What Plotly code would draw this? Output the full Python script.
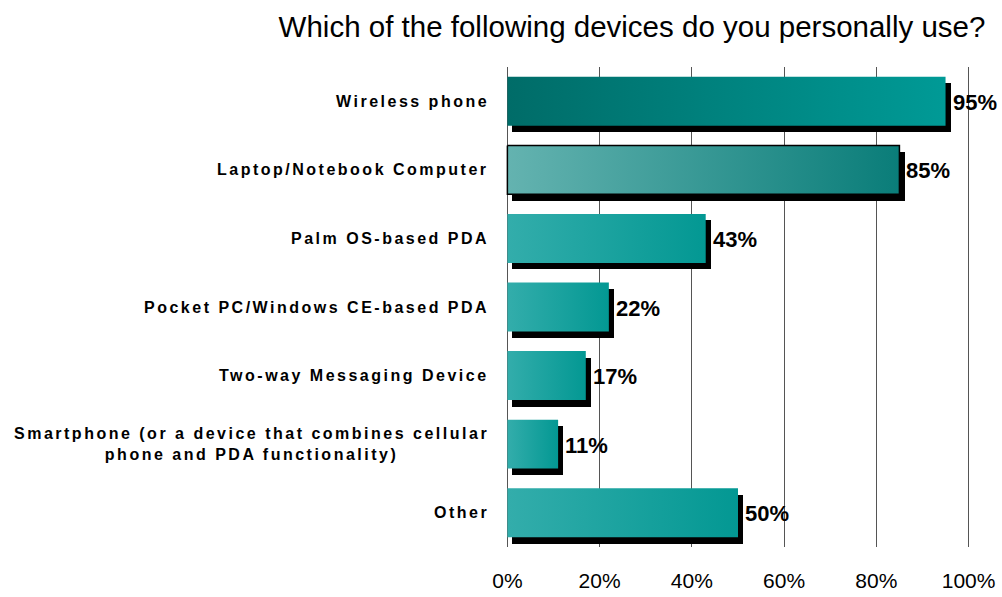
import plotly.graph_objects as go

# ---------------- data ----------------
categories = [
    "Wireless phone",
    "Laptop/Notebook Computer",
    "Palm OS-based PDA",
    "Pocket PC/Windows CE-based PDA",
    "Two-way Messaging Device",
    "Smartphone (or a device that combines cellular<br>phone and PDA functionality)",
    "Other",
]
values = [95, 85, 43, 22, 17, 11, 50]
x_tick_values = [0, 20, 40, 60, 80, 100]
x_tick_labels = ["0%", "20%", "40%", "60%", "80%", "100%"]
title_text = "Which of the following devices do you personally use?"

# ---------------- styles ----------------
grad_left = ["#006c68", "#64b3b0", "#33adab", "#33adab", "#33adab", "#33adab", "#33adab"]
grad_right = ["#009a96", "#0a7d79", "#039893", "#039893", "#039893", "#039893", "#039893"]
outlined = [False, True, False, False, False, False, False]

FONT = "Arial, Liberation Sans, sans-serif"
BAR_HALF = 0.357          # half bar thickness in category units
SHADOW_DX = 1.1           # shadow offset along x (percent units)
SHADOW_DY = 0.095         # shadow offset along y (category units)
X_PAD = 0.3               # small range padding so 0% / 100% gridlines are drawn

fig = go.Figure()

# shadows (black bars offset right/down)
fig.add_trace(go.Bar(
    x=values,
    y=[i + SHADOW_DY for i in range(len(values))],
    base=SHADOW_DX,
    orientation="h",
    width=2 * BAR_HALF,
    marker=dict(color="#000000", line=dict(width=0)),
    hoverinfo="skip",
    showlegend=False,
))

# gradient-filled bars
for i, v in enumerate(values):
    xs = [0, v, v, 0, 0]
    ys = [i - BAR_HALF, i - BAR_HALF, i + BAR_HALF, i + BAR_HALF, i - BAR_HALF]
    fig.add_trace(go.Scatter(
        x=xs, y=ys,
        mode="lines",
        fill="toself",
        fillgradient=dict(type="horizontal",
                          colorscale=[[0, grad_left[i]], [1, grad_right[i]]]),
        line=dict(color="#000000" if outlined[i] else "rgba(0,0,0,0)",
                  width=1.5 if outlined[i] else 0),
        hoverinfo="skip",
        showlegend=False,
    ))

annotations = []
# category labels (letter-spaced, bold)
for i, c in enumerate(categories):
    lines = c.split("<br>")
    txt = "<br>".join(f'<span style="letter-spacing:2.5px">{ln}</span>' for ln in lines)
    annotations.append(dict(
        xref="paper", yref="y", x=0, y=i,
        xanchor="right", yanchor="middle", xshift=-15,
        text=f"<b>{txt}</b>", align="center", showarrow=False,
        font=dict(family=FONT, size=16, color="#000000"),
    ))
# value labels
for i, v in enumerate(values):
    annotations.append(dict(
        xref="x", yref="y", x=v, y=i,
        xanchor="left", yanchor="middle", xshift=5, yshift=-1,
        text=f"<b>{v}%</b>", showarrow=False,
        font=dict(family=FONT, size=22, color="#000000"),
    ))

fig.update_layout(
    width=1002, height=597,
    margin=dict(l=506, r=32, t=67, b=50),
    paper_bgcolor="#ffffff", plot_bgcolor="#ffffff",
    title=dict(text=title_text, x=632 / 1002, xanchor="center", xref="container",
               y=1 - 27 / 597, yanchor="middle", yref="container",
               font=dict(family=FONT, size=29.5, color="#000000")),
    xaxis=dict(range=[-X_PAD, 100 + X_PAD], tickvals=x_tick_values, ticktext=x_tick_labels,
               showgrid=True, gridcolor="#555555", gridwidth=1,
               zeroline=False, showline=False, automargin=False,
               ticks="outside", ticklen=15, tickcolor="rgba(0,0,0,0)",
               tickfont=dict(family=FONT, size=21, color="#000000")),
    yaxis=dict(range=[len(values) - 0.5, -0.5], showticklabels=False,
               showgrid=False, zeroline=False, showline=False, automargin=False),
    annotations=annotations,
    showlegend=False,
    bargap=0,
)

fig.write_html("out.html")
